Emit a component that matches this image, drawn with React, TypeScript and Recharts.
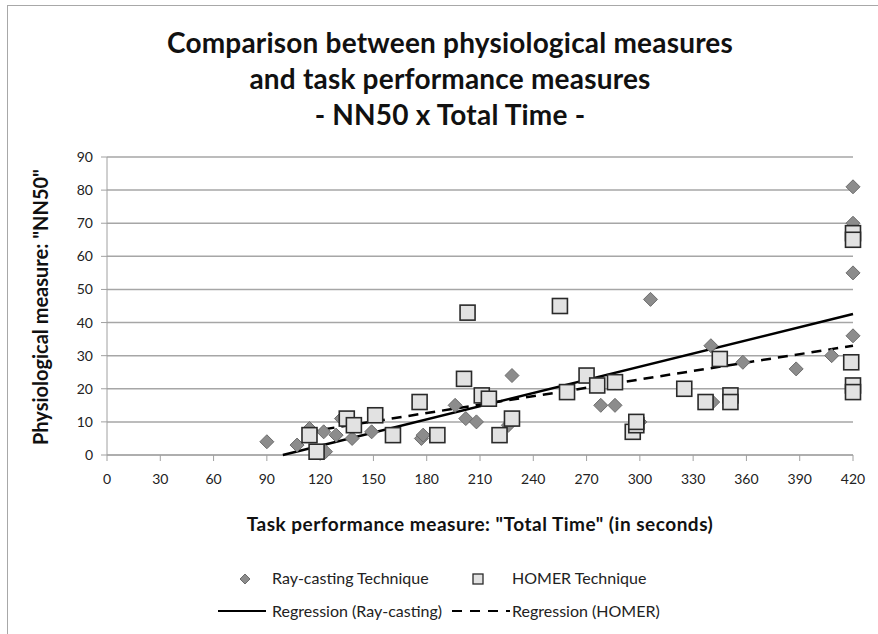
import React from 'react';
import { Scatter, ScatterChart, XAxis, YAxis, CartesianGrid } from 'recharts';

// NN50 vs total task time, two techniques plus their linear trends.
const rayTime = [90, 107, 114, 122, 123, 129, 132, 138, 149, 177, 178, 196, 202, 208, 226, 228, 278, 286, 300, 306, 340, 341, 358, 388, 408, 420, 420, 420, 420, 420];
const rayNN50 = [4, 3, 8, 7, 1, 6, 11, 5, 7, 5, 6, 15, 11, 10, 9, 24, 15, 15, 10, 47, 33, 16, 28, 26, 30, 81, 70, 55, 36, 21];

const homerTime = [114, 118, 135, 139, 151, 161, 176, 186, 201, 203, 211, 215, 221, 228, 255, 259, 270, 276, 286, 296, 298, 298, 325, 337, 345, 351, 351, 419, 420, 420, 420, 420];
const homerNN50 = [6, 1, 11, 9, 12, 6, 16, 6, 23, 43, 18, 17, 6, 11, 45, 19, 24, 21, 22, 7, 9, 10, 20, 16, 29, 18, 16, 28, 21, 19, 67, 65];

// trend line end points
const rayTrendTime = [99, 420];
const rayTrendNN50 = [0, 42.6];
const homerTrendTime = [113, 420];
const homerTrendNN50 = [7, 33];

const xTicks = [0, 30, 60, 90, 120, 150, 180, 210, 240, 270, 300, 330, 360, 390, 420];
const yTicks = [0, 10, 20, 30, 40, 50, 60, 70, 80, 90];

const FONT = 'Lato, "Open Sans", sans-serif';

const zip = (xs: number[], ys: number[]) => xs.map((x, i) => ({ x, y: ys[i] }));

const Diamond = ({ cx, cy }: any) => (
  <path
    d={`M${cx},${cy - 7} L${cx + 7},${cy} L${cx},${cy + 7} L${cx - 7},${cy} Z`}
    fill="#8c8c8c"
    stroke="#6c6c6c"
    strokeWidth={1}
  />
);

const Square = ({ cx, cy }: any) => (
  <rect x={cx - 7.5} y={cy - 7.5} width={15} height={15} fill="#e2e2e2" stroke="#2a2a2a" strokeWidth={1.6} />
);

const Nothing = () => <g />;

export default function App() {
  return (
    <div style={{ position: 'absolute', left: 0, top: 0, width: 878, height: 634, background: '#fff', fontFamily: FONT }}>
      <div style={{ position: 'absolute', left: 7, top: 5, width: 871, height: 629, borderLeft: '1px solid #a8a8a8', borderTop: '1px solid #a8a8a8' }} />
      <div style={{ position: 'absolute', left: 0, top: 24, width: 900, textAlign: 'center', fontWeight: 700, fontSize: 28, lineHeight: '36px', letterSpacing: 0.2, color: '#111' }}>
        Comparison between physiological measures
        <br />
        and task performance measures
        <br />
        - NN50 x Total Time -
      </div>
      <ScatterChart width={878} height={634} margin={{ top: 157, right: 25, bottom: 149, left: 0 }}>
        <CartesianGrid vertical={false} stroke="#a6a6a6" strokeWidth={1.5} />
        <XAxis
          type="number"
          dataKey="x"
          domain={[0, 420]}
          ticks={xTicks}
          interval={0}
          stroke="#a0a0a0"
          tickSize={6}
          tickMargin={13}
          tick={{ fill: '#222', fontSize: 14, fontFamily: FONT }}
          height={30}
        />
        <YAxis
          type="number"
          dataKey="y"
          domain={[0, 90]}
          ticks={yTicks}
          interval={0}
          stroke="#a0a0a0"
          tickSize={6}
          tickMargin={8}
          tick={{ fill: '#222', fontSize: 14, fontFamily: FONT }}
          width={107}
        />
        <Scatter data={zip(rayTrendTime, rayTrendNN50)} line={{ stroke: '#000', strokeWidth: 2.5 }} shape={Nothing} isAnimationActive={false} />
        <Scatter data={zip(homerTrendTime, homerTrendNN50)} line={{ stroke: '#000', strokeWidth: 2.5, strokeDasharray: '10 7' }} shape={Nothing} isAnimationActive={false} />
        <Scatter data={zip(rayTime, rayNN50)} shape={Diamond} isAnimationActive={false} />
        <Scatter data={zip(homerTime, homerNN50)} shape={Square} isAnimationActive={false} />
      </ScatterChart>
      <div style={{ position: 'absolute', left: 40, top: 307, width: 0, height: 0 }}>
        <div style={{ position: 'absolute', transform: 'translate(-50%, -50%) rotate(-90deg)', left: 0, top: 0, whiteSpace: 'nowrap', fontWeight: 700, fontSize: 20, color: '#111' }}>
          Physiological measure: "NN50"
        </div>
      </div>
      <div style={{ position: 'absolute', left: 0, top: 512, width: 960, textAlign: 'center', fontWeight: 700, fontSize: 19, letterSpacing: 0.5, color: '#111', whiteSpace: 'nowrap' }}>
        Task performance measure: "Total Time" (in seconds)
      </div>
      <div style={{ position: 'absolute', left: 0, top: 568, width: 878, height: 60, fontSize: 16, color: '#222' }}>
        <svg style={{ position: 'absolute', left: 237, top: 3 }} width={16} height={16}>
          <path d="M8,3 L13,8 L8,13 L3,8 Z" fill="#8c8c8c" stroke="#6c6c6c" />
        </svg>
        <span style={{ position: 'absolute', left: 272, top: 0 }}>Ray-casting Technique</span>
        <svg style={{ position: 'absolute', left: 470, top: 3 }} width={16} height={16}>
          <rect x={3} y={3} width={10} height={10} fill="#e2e2e2" stroke="#2a2a2a" strokeWidth={1.3} />
        </svg>
        <span style={{ position: 'absolute', left: 512, top: 0 }}>HOMER Technique</span>
        <svg style={{ position: 'absolute', left: 216, top: 35 }} width={52} height={16}>
          <line x1={2} y1={8} x2={50} y2={8} stroke="#000" strokeWidth={2} />
        </svg>
        <span style={{ position: 'absolute', left: 272, top: 33 }}>Regression (Ray-casting)</span>
        <svg style={{ position: 'absolute', left: 450, top: 35 }} width={62} height={16}>
          <line x1={2} y1={8} x2={60} y2={8} stroke="#000" strokeWidth={2} strokeDasharray="10 8" />
        </svg>
        <span style={{ position: 'absolute', left: 512, top: 33 }}>Regression (HOMER)</span>
      </div>
    </div>
  );
}
